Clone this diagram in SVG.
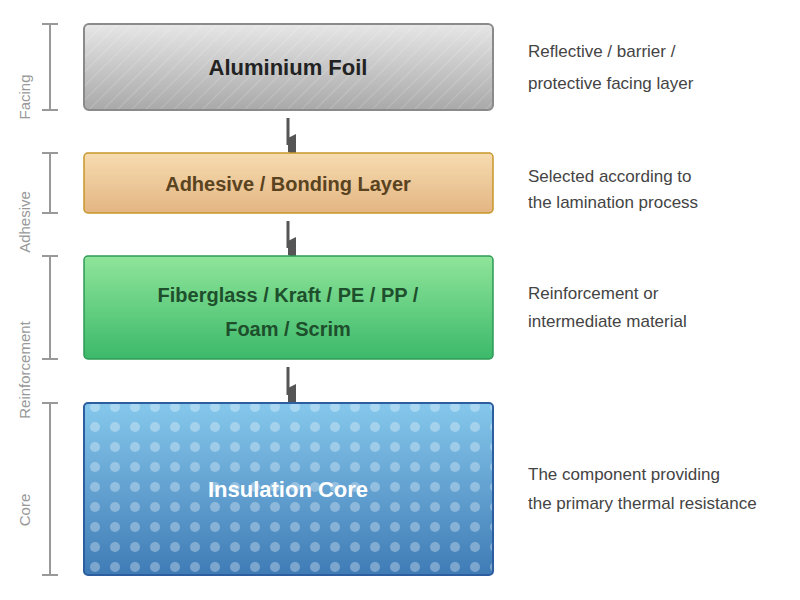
<svg xmlns="http://www.w3.org/2000/svg" width="800" height="600" viewBox="0 0 800 600">
<defs>
<linearGradient id="gFoil" x1="0" y1="0" x2="0" y2="1"><stop offset="0" stop-color="#e6e6e6"/><stop offset="1" stop-color="#a9a9a9"/></linearGradient>
<linearGradient id="gAdh" x1="0" y1="0" x2="0" y2="1"><stop offset="0" stop-color="#f6dcb0"/><stop offset="1" stop-color="#e4b583"/></linearGradient>
<linearGradient id="gRei" x1="0" y1="0" x2="0" y2="1"><stop offset="0" stop-color="#8fe59a"/><stop offset="1" stop-color="#3cb96a"/></linearGradient>
<linearGradient id="gCore" x1="0" y1="0" x2="0" y2="1"><stop offset="0" stop-color="#86c8ec"/><stop offset="1" stop-color="#3f7bb5"/></linearGradient>
<pattern id="hatch" width="10" height="10" patternUnits="userSpaceOnUse" patternTransform="rotate(45)"><line x1="0" y1="0" x2="0" y2="10" stroke="#ffffff" stroke-opacity="0.35" stroke-width="1"/></pattern>
<pattern id="dots" width="20" height="20" patternUnits="userSpaceOnUse"><circle cx="15" cy="7" r="5" fill="#ffffff" fill-opacity="0.3"/></pattern>
<marker id="arr" markerWidth="22" markerHeight="10" refX="11" refY="8" orient="auto-start-reverse" markerUnits="userSpaceOnUse" viewBox="0 0 22 10"><path d="M0,0 L22,0 L18,8 L4,8 Z" fill="#555"/></marker>
<style>
.lbl{font-family:"Liberation Sans",Arial,sans-serif;font-weight:bold;font-size:22px;text-anchor:middle}
.note{font-family:"Liberation Sans",Arial,sans-serif;font-size:17px;fill:#444}
.side{font-family:"Liberation Sans",Arial,sans-serif;font-size:15px;fill:#999;text-anchor:middle}
.br{stroke:#999;stroke-width:2;fill:none}
</style>
</defs>
<g id="brackets">
<path class="br" d="M42,24H58M50,24V110M42,110H58"/>
<path class="br" d="M42,153H58M50,153V213M42,213H58"/>
<path class="br" d="M42,256H58M50,256V359M42,359H58"/>
<path class="br" d="M42,403H58M50,403V575M42,575H58"/>
<text class="side" transform="translate(30,97) rotate(-90)">Facing</text>
<text class="side" transform="translate(30,222) rotate(-90)">Adhesive</text>
<text class="side" transform="translate(30,370) rotate(-90)">Reinforcement</text>
<text class="side" transform="translate(30,510) rotate(-90)">Core</text>
</g>
<g id="connectors" stroke="#555" stroke-width="3">
<line x1="288" y1="118" x2="288" y2="145" marker-end="url(#arr)"/>
<line x1="288" y1="221" x2="288" y2="248" marker-end="url(#arr)"/>
<line x1="288" y1="367" x2="288" y2="395" marker-end="url(#arr)"/>
</g>
<g id="foil">
<rect x="84" y="24" width="409" height="86" rx="5" fill="url(#gFoil)" stroke="#8a8a8a" stroke-width="2"/>
<rect x="85" y="25" width="407" height="84" rx="4" fill="url(#hatch)"/>
<text class="lbl" x="288" y="75" fill="#222">Aluminium Foil</text>
</g>
<g id="adhesive">
<rect x="84" y="153" width="409" height="60" rx="4" fill="url(#gAdh)" stroke="#c7962a" stroke-width="1.5"/>
<text class="lbl" x="288" y="191" font-size="20" fill="#5a4320" style="font-size:20px">Adhesive / Bonding Layer</text>
</g>
<g id="reinforcement">
<rect x="84" y="256" width="409" height="103" rx="4" fill="url(#gRei)" stroke="#2e9a55" stroke-width="1.5"/>
<text class="lbl" x="288" y="302" fill="#1e4f2c" style="font-size:20px">Fiberglass / Kraft / PE / PP /</text>
<text class="lbl" x="288" y="336" fill="#1e4f2c" style="font-size:20px">Foam / Scrim</text>
</g>
<g id="core">
<rect x="84" y="403" width="409" height="172" rx="4" fill="url(#gCore)" stroke="#2d5fa0" stroke-width="2"/>
<rect x="85" y="404" width="407" height="170" rx="3" fill="url(#dots)"/>
<text class="lbl" x="288" y="497" fill="#ffffff">Insulation Core</text>
</g>
<g id="notes">
<text class="note" x="528" y="57">Reflective / barrier /</text>
<text class="note" x="528" y="89">protective facing layer</text>
<text class="note" x="528" y="182">Selected according to</text>
<text class="note" x="528" y="208">the lamination process</text>
<text class="note" x="528" y="299">Reinforcement or</text>
<text class="note" x="528" y="327">intermediate material</text>
<text class="note" x="528" y="480">The component providing</text>
<text class="note" x="528" y="509">the primary thermal resistance</text>
</g>
</svg>
